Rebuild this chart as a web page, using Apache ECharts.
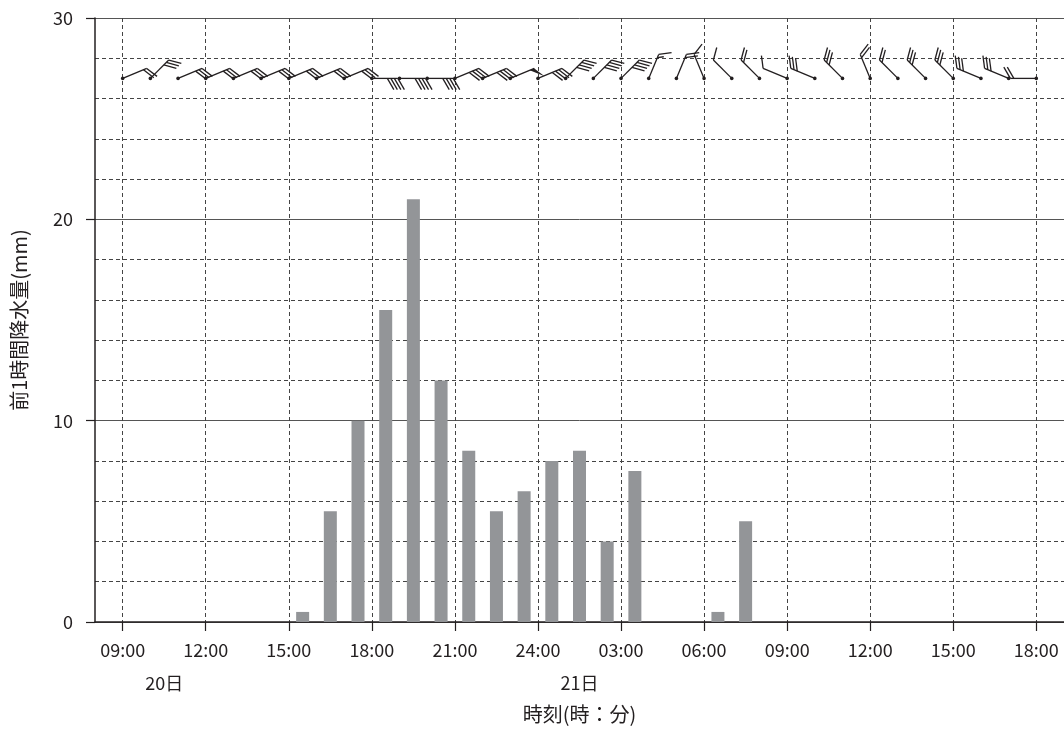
<!DOCTYPE html>
<html>
<head>
<meta charset="utf-8">
<title>前1時間降水量と風</title>
<script src="https://cdn.jsdelivr.net/npm/echarts@6.0.0/dist/echarts.min.js"></script>
<style>
  html, body { margin: 0; padding: 0; background: #fff; }
  #chart { width: 1064px; height: 729px; }
</style>
</head>
<body>
<div id="chart"></div>
<script>
// 時刻は20日0時からの経過時間（時）で持つ
const tickHours = [9, 12, 15, 18, 21, 24, 27, 30, 33, 36, 39, 42];
const tickLabels = ["09:00", "12:00", "15:00", "18:00", "21:00", "24:00", "03:00", "06:00", "09:00", "12:00", "15:00", "18:00"];
const dayHours = [10.5, 25.5];
const dayLabels = ["20日", "21日"];

// 前1時間降水量(mm)
const rainHours = [15.5, 16.5, 17.5, 18.5, 19.5, 20.5, 21.5, 22.5, 23.5, 24.5, 25.5, 26.5, 27.5, 28.5, 29.5, 30.5, 31.5];
const rainValues = [0.5, 5.5, 10, 15.5, 21, 12, 8.5, 5.5, 6.5, 8, 8.5, 4, 7.5, 0, 0, 0.5, 5];

// 矢羽：風向(度)と羽の数（旗=5, 短い羽=0.5）
const windHours = [9, 10, 11, 12, 13, 14, 15, 16, 17, 18, 19, 20, 21, 22, 23, 24, 25,
  26, 27, 28, 29, 30, 31, 32, 33, 34, 35, 36, 37, 38, 39, 40, 41, 42];
const windDir = [67.5, 45, 67.5, 67.5, 67.5, 67.5, 67.5, 67.5, 67.5, 90, 90, 90, 67.5, 67.5, 67.5, 67.5, 45,
  45, 45, 22.5, 22.5, 337.5, 315, 315, 292.5, 292.5, 315, 337.5, 315, 315, 315, 292.5, 292.5, 270];
const windSpeed = [2, 3, 3, 3, 3, 3, 3, 3, 3, 4, 4, 4, 4, 4, 5, 4, 4,
  4, 4, 1.5, 2, 1, 1, 2, 1, 3, 3, 2, 2, 3, 3, 3, 3, 2];
const windLevel = 27;

const textColor = "#231f20";
const fontFamily = "'Noto Sans CJK JP', 'Noto Sans', sans-serif";

const SHAFT = 26;
const FEATHER = 13;
const GAP = 3.5;

function renderBarb(params, api) {
  const p = api.coord([api.value(0), api.value(1)]);
  const dir = api.value(2) * Math.PI / 180;
  const spd = api.value(3);
  const ux = Math.sin(dir), uy = -Math.cos(dir);
  const fdir = dir + 60 * Math.PI / 180;
  const fx = Math.sin(fdir), fy = -Math.cos(fdir);
  const tip = [p[0] + ux * SHAFT, p[1] + uy * SHAFT];
  const style = { stroke: textColor, lineWidth: 1.3 };
  const children = [
    { type: "circle", shape: { cx: p[0], cy: p[1], r: 1.8 }, style: { fill: textColor } },
    { type: "line", shape: { x1: p[0], y1: p[1], x2: tip[0], y2: tip[1] }, style: style },
  ];
  let rest = spd;
  let pos = 0;
  while (rest >= 5) {
    const a = [tip[0] - ux * pos, tip[1] - uy * pos];
    const b = [tip[0] - ux * (pos + 5), tip[1] - uy * (pos + 5)];
    const c = [a[0] + fx * FEATHER, a[1] + fy * FEATHER];
    children.push({ type: "polygon", shape: { points: [a, b, c] }, style: { fill: textColor } });
    pos += 6;
    rest -= 5;
  }
  while (rest > 0) {
    const len = rest >= 1 ? FEATHER : FEATHER / 2;
    const s = [tip[0] - ux * pos, tip[1] - uy * pos];
    children.push({
      type: "line",
      shape: { x1: s[0], y1: s[1], x2: s[0] + fx * len, y2: s[1] + fy * len },
      style: style,
    });
    pos += GAP;
    rest -= rest >= 1 ? 1 : rest;
  }
  return { type: "group", children: children };
}

const chart = echarts.init(document.getElementById("chart"));

const options = {
  animation: false,
  textStyle: { fontFamily: fontFamily },
  grid: { left: 95, right: 0, top: 18, bottom: 106 },
  xAxis: [
    {
      type: "value",
      min: 8,
      max: 43,
      name: "時刻(時：分)",
      nameLocation: "middle",
      nameGap: 82,
      nameTextStyle: { fontSize: 20, color: textColor },
      axisLine: { lineStyle: { color: textColor, width: 1.5 } },
      axisTick: { customValues: tickHours, length: 9, lineStyle: { color: textColor, width: 1.2 } },
      axisLabel: {
        customValues: tickHours,
        fontSize: 18,
        color: textColor,
        margin: 19,
        formatter: (v) => tickLabels[tickHours.indexOf(v)],
      },
      splitLine: { show: true, lineStyle: { color: "#444", type: [4, 3], width: 1 } },
    },
    {
      type: "value",
      min: 8,
      max: 43,
      position: "bottom",
      axisLine: { show: false },
      axisTick: { show: false },
      splitLine: { show: false },
      axisLabel: {
        customValues: dayHours,
        fontSize: 18,
        color: textColor,
        margin: 52,
        formatter: (v) => dayLabels[dayHours.indexOf(v)],
      },
    },
  ],
  yAxis: {
    type: "value",
    min: 0,
    max: 30,
    interval: 10,
    name: "前1時間降水量(mm)",
    nameLocation: "middle",
    nameGap: 66,
    nameTextStyle: { fontSize: 20, color: textColor },
    axisLine: { show: true, lineStyle: { color: textColor, width: 1.5 } },
    axisTick: { show: true, length: 9, lineStyle: { color: textColor, width: 1.2 } },
    axisLabel: { fontSize: 18, color: textColor, margin: 22 },
    splitLine: { show: true, lineStyle: { color: "#555", width: 1 } },
    minorTick: { show: false, splitNumber: 5 },
    minorSplitLine: { show: true, lineStyle: { color: "#444", type: [4, 3], width: 1 } },
  },
  series: [
    {
      name: "前1時間降水量",
      type: "bar",
      xAxisIndex: 0,
      barWidth: 13,
      itemStyle: { color: "#939598" },
      data: rainHours.map((h, i) => [h, rainValues[i]]),
    },
    {
      name: "風",
      type: "custom",
      xAxisIndex: 0,
      renderItem: renderBarb,
      encode: { x: 0, y: 1 },
      data: windHours.map((h, i) => [h, windLevel, windDir[i], windSpeed[i]]),
      z: 5,
    },
  ],
};

chart.setOption(options);
window.addEventListener("resize", () => chart.resize());
</script>
</body>
</html>
